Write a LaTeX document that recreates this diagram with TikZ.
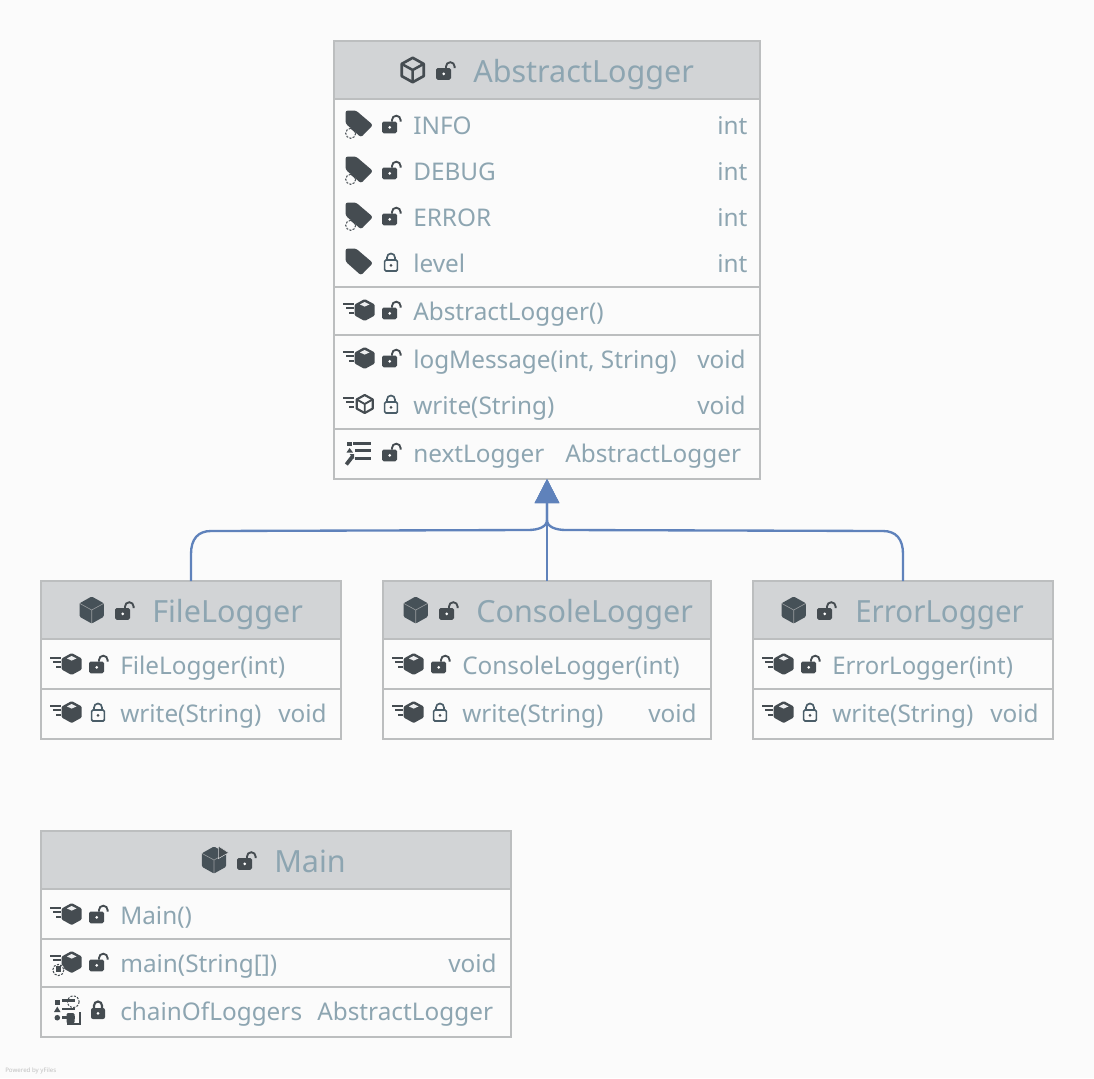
\documentclass[tikz,border=0pt]{standalone}
\usepackage{graphicx}
\usepackage{fontspec}
\setmainfont{Noto Sans}
\usetikzlibrary{arrows.meta}
\definecolor{pagebg}{HTML}{FBFBFB}
\definecolor{headbg}{HTML}{D2D4D6}
\definecolor{framec}{HTML}{BCBEBF}
\definecolor{txtc}{HTML}{8DA5B1}
\definecolor{iconc}{HTML}{454C51}
\definecolor{lockc}{HTML}{4A5D68}
\definecolor{edgec}{HTML}{5F82BB}
\tikzset{
  classframe/.style={rectangle,fill=pagebg,draw=framec,line width=1.5pt,inner sep=0pt,outer sep=0pt},
  framerule/.style={draw=framec,line width=1.5pt},
  titletext/.style={anchor=base west,inner sep=0pt,text=txtc,font=\fontsize{22.9}{28}\selectfont},
  rowtext/.style={anchor=base west,inner sep=0pt,text=txtc,font=\fontsize{18.25}{24}\selectfont},
  inherit/.style={draw=edgec,line width=1.75pt},
  inherittip/.style={-{Triangle[length=18pt,width=18pt,fill=edgec]}},
}
\newcommand{\classbox}[6]{%
  \pgfmathsetmacro\cw{(#4-#2)*0.75}\pgfmathsetmacro\ch{(#5-#3)*0.75}%
  \node[classframe,minimum width=\cw pt,minimum height=\ch pt] (#1) at ({(#2+#4)/2},{(#3+#5)/2}) {};
  \fill[headbg] (#1.north west) rectangle (#1.east |- 0,#6);
  \draw[framerule] (#1.north west) rectangle (#1.south east);
  \draw[framerule] (#1.west |- 0,#6) -- (#1.east |- 0,#6);
}
\newcommand{\classrule}[2]{\draw[framerule] (#1.west |- 0,#2) -- (#1.east |- 0,#2);}
\newcommand{\lockopen}[2]{\begin{scope}[shift={(#1,#2)}]
  \fill[iconc,rounded corners=1.2pt] (0,-3.5) rectangle (15,8.3);
  \draw[iconc,line width=1.4pt] (10,-3.5) -- (10,-5) arc[start angle=180,end angle=0,x radius=4.3,y radius=-4.3] -- (18.6,-3.5);
  \fill[white] (7.7,2.4) circle[radius=1.5];
\end{scope}}
\newcommand{\lockclosed}[2]{\begin{scope}[shift={(#1,#2)}]
  \draw[lockc,line width=1.25pt,rounded corners=1pt] (0.6,-3) rectangle (13.4,8);
  \draw[lockc,line width=1.25pt] (3,-3) -- (3,-5.5) arc[start angle=180,end angle=0,x radius=4,y radius=-4] -- (11,-3);
  \fill[iconc] (7,2.4) circle[radius=1.5];
\end{scope}}
\newcommand{\lockfilled}[2]{\begin{scope}[shift={(#1,#2)}]
  \fill[iconc,rounded corners=1.5pt] (0,-3) rectangle (14,8);
  \draw[iconc,line width=1.6pt] (3,-3) -- (3,-5.5) arc[start angle=180,end angle=0,x radius=4,y radius=-4] -- (11,-3);
  \fill[white] (7,2.4) circle[radius=1.5];
\end{scope}}
\newcommand{\tagshape}[2]{\begin{scope}[shift={(#1,#2)}]
  \fill[iconc,rounded corners=1.8pt] (-0.5,-14.5) -- (10,-14.5) -- (27,0) -- (15,12.3) -- (-0.5,-1.5) -- cycle;
\end{scope}}
\newcommand{\tagdash}[2]{\begin{scope}[shift={(#1,#2)}]
  \fill[pagebg] (4.7,8.3) circle[radius=5.4];
  \fill[iconc] (4,3) -- (9.5,3) -- (9.5,8) -- cycle;
  \draw[iconc,line width=0.75pt,dash pattern=on 1.6pt off 1pt] (4.7,8.3) circle[radius=5];
\end{scope}}
\newcommand{\bigcubeoutline}[2]{\begin{scope}[shift={(#1,#2)}]
  \draw[iconc,line width=2pt,line join=round] (0,-12.2) -- (11,-6.1) -- (11,6.1) -- (0,12.2) -- (-11,6.1) -- (-11,-6.1) -- cycle;
  \draw[iconc,line width=1.9pt,line join=round] (-11,-6.1) -- (0,0) -- (11,-6.1) (0,0) -- (0,12.2);
\end{scope}}
\newcommand{\bigcube}[2]{\begin{scope}[shift={(#1,#2)}]
  \fill[iconc!70!lockc,rounded corners=1pt] (0,-13.5) -- (12.2,-6.7) -- (12.2,6.7) -- (0,13.5) -- (-12.2,6.7) -- (-12.2,-6.7) -- cycle;
  \draw[white!45!iconc,line width=0.45pt] (-12.2,-6.7) -- (0,0) -- (12.2,-6.7) (0,0) -- (0,13.5);
\end{scope}}
\newcommand{\speedlines}[3][3]{\begin{scope}[shift={(#2,#3)}]
  \draw[iconc,line width=1.5pt] (0,-7) -- (11,-7) (3,-2.8) -- (11,-2.8);
  \ifnum#1=3\relax\draw[iconc,line width=1.5pt] (6,1.8) -- (11,1.8);\fi
\end{scope}}
\newcommand{\smallcube}[2]{\begin{scope}[shift={(#1+21.7,#2-1)}]
  \fill[iconc,rounded corners=0.8pt] (0,-11) -- (10,-5.5) -- (10,5.5) -- (0,11) -- (-10,5.5) -- (-10,-5.5) -- cycle;
  \fill[white!90!iconc] (0,-8) -- (4.8,-5.6) -- (0,-3.4) -- (-4.8,-5.6) -- cycle;
\end{scope}}
\newcommand{\smallcubeoutline}[2]{\begin{scope}[shift={(#1+21.7,#2-1)}]
  \draw[iconc,line width=1.6pt,line join=round] (0,-9) -- (8,-4.6) -- (8,4.6) -- (0,9) -- (-8,4.6) -- (-8,-4.6) -- cycle;
  \draw[iconc,line width=1.4pt,line join=round] (-8,-4.6) -- (0,0) -- (8,-4.6) (0,0) -- (0,9);
\end{scope}}
\newcommand{\methodicon}[2]{\speedlines{#1}{#2}\smallcube{#1}{#2}}
\newcommand{\mainmethodicon}[2]{\speedlines[2]{#1}{#2}\smallcube{#1}{#2}
  \begin{scope}[shift={(#1,#2)}]
  \fill[pagebg] (8.3,7) circle[radius=6.2];
  \draw[iconc,line width=0.75pt,dash pattern=on 1.6pt off 1pt] (8.3,7) circle[radius=5.6];
  \fill[iconc] (5.5,3) rectangle (11,8.5);
  \end{scope}}
\begin{document}
\begin{tikzpicture}[x=0.75pt,y=-0.75pt]
\useasboundingbox (0,0) rectangle (1094,1078);
\fill[pagebg] (0,0) rectangle (1094,1078);

% classes
\classbox{abs}{334}{41}{760}{479}{99}
\classrule{abs}{287}\classrule{abs}{335}\classrule{abs}{429}
\classbox{file}{41}{581}{341}{739}{639}
\classrule{file}{689}
\classbox{console}{383}{581}{711}{739}{639}
\classrule{console}{689}
\classbox{err}{753}{581}{1053}{739}{639}
\classrule{err}{689}
\classbox{mainc}{41}{831}{511}{1037}{889}
\classrule{mainc}{939}\classrule{mainc}{987}

% connectors
\path (abs.south) ++(0,41) coordinate (merge);
\draw[inherit,inherittip] (console.north) -- (abs.south);
\draw[inherit,inherittip] (file.north) -- ++(0,-27) .. controls ++(0,-15) and ++(-13,0) .. ++(20,-23) -- (528,530) .. controls (538,530) and (547,527) .. (merge) -- (abs.south);
\draw[inherit,inherittip] (err.north) -- ++(0,-27) .. controls ++(0,-15) and ++(13,0) .. ++(-20,-23) -- (566,530) .. controls (556,530) and (547,527) .. (merge) -- (abs.south);

% AbstractLogger
\bigcubeoutline{412.7}{70}\lockopen{436}{71.5}
\node[titletext] (absT) at (473,82) {AbstractLogger};
\foreach \yy/\nm in {125/INFO,171/DEBUG,217/ERROR}{
  \tagshape{346}{\yy}\tagdash{346}{\yy}\lockopen{382}{\yy}
  \node[rowtext] (abs\nm) at (413,\yy+9) {\nm};
  \node[rowtext] (abs\nm t) at (717,\yy+9) {int};
}
\tagshape{346}{263}\lockclosed{384}{263}
\node[rowtext] (absLevel) at (413,272) {level};
\node[rowtext] (absLevelT) at (717,272) {int};
\methodicon{343}{311}\lockopen{382}{311}
\node[rowtext] (absCtor) at (413,320) {AbstractLogger()};
\methodicon{343}{359}\lockopen{382}{359}
\node[rowtext] (absLog) at (413,368) {logMessage(int, String)};
\node[rowtext] (absLogT) at (697,368) {void};
\speedlines{343}{405}\smallcubeoutline{343}{405}\lockclosed{384}{405}
\node[rowtext] (absWrite) at (413,414) {write(String)};
\node[rowtext] (absWriteT) at (697,414) {void};
% list icon
\begin{scope}[shift={(346,453)}]
  \fill[iconc] (1.3,-11.5) rectangle (6,-7.5);
  \fill[iconc] (3.6,-5) -- (7,-0.5) -- (0.5,-0.5) -- cycle;
  \draw[iconc,line width=2.1pt] (7,-9.5) -- (24.7,-9.5) (9,-2.5) -- (24.7,-2.5) (9,5.5) -- (24.7,5.5);
  \draw[iconc,line width=2.8pt] (0.3,11.5) -- (6.5,3.5);
  \fill[iconc] (3.6,1) -- (8,1) -- (8,6) -- cycle;
\end{scope}
\lockopen{382}{453}
\node[rowtext] (absNext) at (413,462) {nextLogger};
\node[rowtext] (absNextT) at (565,462) {AbstractLogger};

% FileLogger
\bigcube{91.7}{610}\lockopen{115}{611.5}
\node[titletext] (fileT) at (152,622) {FileLogger};
\methodicon{50}{665}\lockopen{89}{665}
\node[rowtext] (fileCtor) at (120,674) {FileLogger(int)};
\methodicon{50}{713}\lockclosed{91}{713}
\node[rowtext] (fileWrite) at (120,722) {write(String)};
\node[rowtext] (fileWriteT) at (278,722) {void};

% ConsoleLogger
\bigcube{415.7}{610}\lockopen{439}{611.5}
\node[titletext] (conT) at (476,622) {ConsoleLogger};
\methodicon{392}{665}\lockopen{431}{665}
\node[rowtext] (conCtor) at (462,674) {ConsoleLogger(int)};
\methodicon{392}{713}\lockclosed{433}{713}
\node[rowtext] (conWrite) at (462,722) {write(String)};
\node[rowtext] (conWriteT) at (648,722) {void};

% ErrorLogger
\bigcube{793.7}{610}\lockopen{817}{611.5}
\node[titletext] (errT) at (855,622) {\scalebox{0.966}[1]{ErrorLogger}};
\methodicon{762}{665}\lockopen{801}{665}
\node[rowtext] (errCtor) at (832,674) {\scalebox{0.983}[1]{ErrorLogger(int)}};
\methodicon{762}{713}\lockclosed{803}{713}
\node[rowtext] (errWrite) at (832,722) {write(String)};
\node[rowtext] (errWriteT) at (990,722) {void};

% Main
\bigcube{214}{860}
\fill[iconc,draw=headbg,line width=0.4pt] (218.3,846) -- (228.6,852.7) -- (218.3,858.6) -- cycle;
\lockopen{237}{861.5}
\node[titletext] (mainT) at (274,872) {Main};
\methodicon{50}{915}\lockopen{89}{915}
\node[rowtext] (mainCtor) at (120,924) {Main()};
\mainmethodicon{50}{963}\lockopen{89}{963}
\node[rowtext] (mainMain) at (120,972) {main(String[])};
\node[rowtext] (mainMainT) at (448,972) {void};
% field-list icon
\begin{scope}[shift={(54,1011)}]
  \fill[iconc] (0.7,-11.5) rectangle (6,-6.5);
  \fill[iconc] (3.3,-4.5) -- (6.5,1) -- (0,1) -- cycle;
  \fill[iconc] (3.3,6.7) circle[radius=2.8];
  \fill[pagebg] (19.3,-9.3) circle[radius=6.4];
  \draw[iconc,line width=0.75pt,dash pattern=on 1.6pt off 1pt] (19.3,-9.3) circle[radius=5.8];
  \draw[iconc,line width=2pt] (8,-10.3) -- (21,-10.3) (8,-2) -- (21,-2) (8,6.7) -- (21,6.7);
  \fill[iconc,rounded corners=1pt] (12.5,2) rectangle (20.5,12.5);
  \draw[iconc,line width=0.9pt] (26,1) -- (26,13) -- (13,13);
\end{scope}
\lockfilled{91}{1011}
\node[rowtext] (mainChain) at (120,1020) {chainOfLoggers};
\node[rowtext] (mainChainT) at (317,1020) {AbstractLogger};

% footer
\node[anchor=base west,inner sep=0pt,text=black!25,font=\fontsize{4.6}{6}\selectfont] (yf) at (5,1072) {Powered by yFiles};
\end{tikzpicture}
\end{document}
